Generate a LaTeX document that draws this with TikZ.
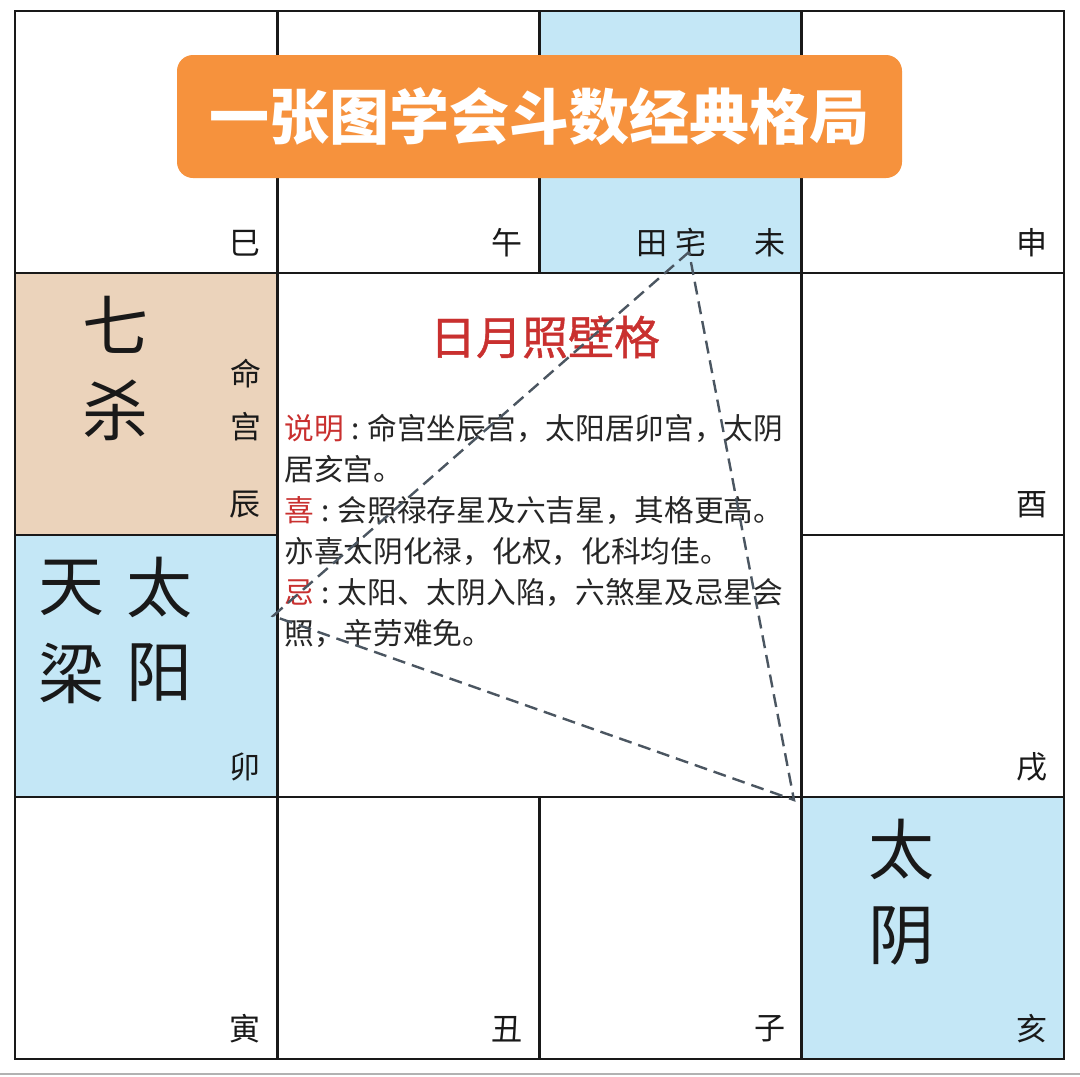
\documentclass[tikz,border=0pt]{standalone}
\usepackage{fontspec}
\setmainfont{Noto Sans CJK SC}
\newfontfamily\headfont{Noto Sans CJK SC}[FakeBold=0.8]
\usetikzlibrary{positioning,calc}

\definecolor{palaceblue}{HTML}{C4E7F6}
\definecolor{palacetan}{HTML}{EBD3BB}
\definecolor{bannerorange}{HTML}{F6923D}
\definecolor{patternred}{HTML}{C9302F}
\definecolor{linkgray}{HTML}{4B5661}

\newcommand\colonsep{\makebox[0.8em][c]{:}}

\begin{document}
\begin{tikzpicture}[
    x=0.5pt, y=-0.5pt,
    cell/.style={draw=black!90, line width=1.3pt, minimum width=131.1pt, minimum height=131pt, inner sep=0pt, outer sep=0pt},
    branch/.style={font=\fontsize{15.5}{15.5}\selectfont, inner sep=0pt, text=black!90},
    star/.style={font=\fontsize{33}{33}\selectfont, inner sep=0pt, text=black!90},
    body/.style={font=\fontsize{14.85}{14.85}\selectfont, anchor=base west, inner sep=0pt, text=black!85},
    link/.style={draw=linkgray, line width=1.2pt, dash pattern=on 6.5pt off 3.5pt}
]

% canvas
\fill[white] (0,0) rectangle (1080,1076);
\useasboundingbox (0,0) rectangle (1080,1076);

% the twelve palaces round the edge
\foreach \nm/\c/\r/\lbl/\clr in {si/0/0/巳/white, wu/1/0/午/white, wei/2/0/未/palaceblue, shen/3/0/申/white,
    chen/0/1/辰/palacetan, you/3/1/酉/white, mao/0/2/卯/palaceblue, xu/3/2/戌/white,
    yin/0/3/寅/white, chou/1/3/丑/white, zi/2/3/子/white, hai/3/3/亥/palaceblue}{
  \node[cell, fill=\clr] (\nm) at ({15+262.25*(\c+0.5)}, {11+262*(\r+0.5)}) {};
  \node[branch] (\nm-lbl) at ([shift={(-32,-30)}]\nm.south east) {\lbl};
}

% palace names
\node[branch] (tianzhai) at (671,242.5) {田\hspace{4pt}宅};
\node[branch] (ming) at (246,374) {命};
\node[branch] (gong) at (246,427) {宫};

% main stars
\node[star] (qi) at (115,325) {七};
\node[star] (sha) at (115,410) {杀};
\node[star] (tian) at (72,588) {天};
\node[star] (liang) at (72,673) {梁};
\node[star] (tai) at (159,588) {太};
\node[star] (yang) at (159,673) {阳};
\node[star] (taiyin1) at (901,850) {太};
\node[star] (taiyin2) at (901,936) {阴};

% banner
\node[fill=bannerorange, rounded corners=8pt, minimum width=362.5pt, minimum height=61.5pt,
      text=white, font=\bfseries\fontsize{30}{30}\selectfont] (banner) at (539.5,116.5) {一张图学会斗数经典格局};

% pattern title and notes
\node[text=patternred, font=\headfont\fontsize{23}{23}\selectfont, inner sep=0pt] (geju) at (545,337) {日月照壁格};
\node[body] (desc1) at (284,439) {\textcolor{patternred}{说明}\colonsep 命宫坐辰宫，太阳居卯宫，太阴};
\node[body] (desc2) at (284,480) {居亥宫。};
\node[body] (desc3) at (284,521) {\textcolor{patternred}{喜}\colonsep 会照禄存星及六吉星，其格更高。};
\node[body] (desc4) at (284,562) {亦喜太阴化禄，化权，化科均佳。};
\node[body] (desc5) at (284,603) {\textcolor{patternred}{忌}\colonsep 太阳、太阴入陷，六煞星及忌星会};
\node[body] (desc6) at (284,644) {照，辛劳难免。};

% sun, moon and the 田宅 palace
\coordinate (tz) at (689,252);
\coordinate (ty) at (273,616);
\coordinate (tl) at (794,800);
\draw[link] (tz) -- (ty) -- (tl) -- cycle;

\draw[gray!60, line width=1pt] (0,1074) -- (1080,1074);

\end{tikzpicture}
\end{document}
